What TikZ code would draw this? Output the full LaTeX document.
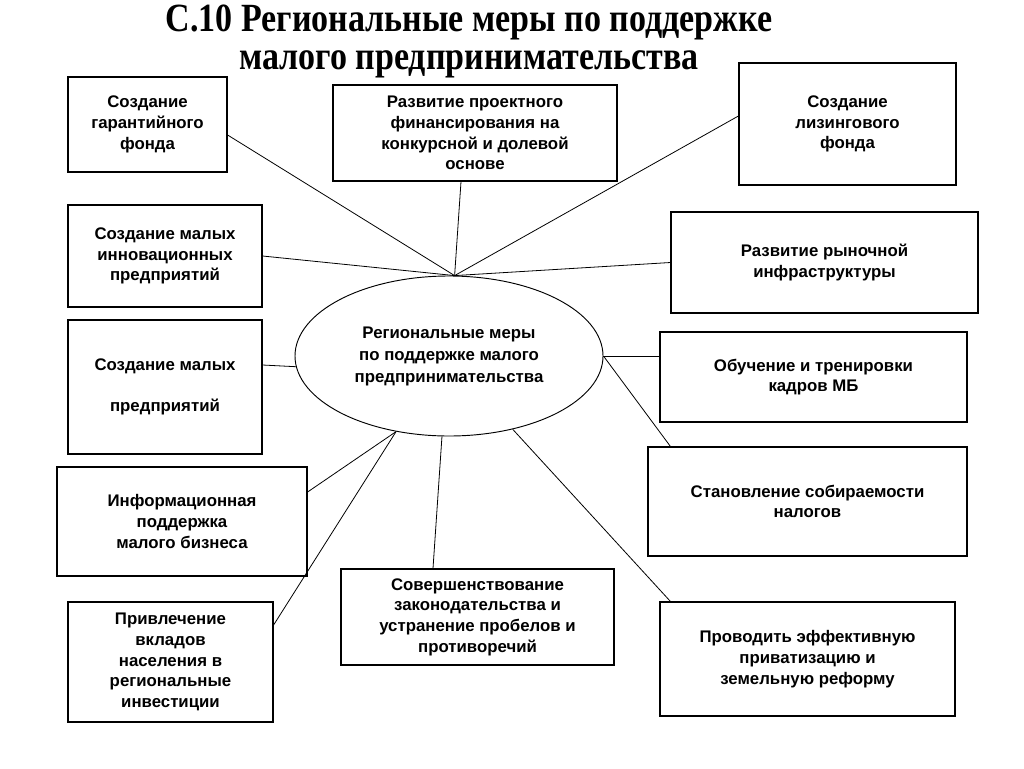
\documentclass[tikz,border=0pt]{standalone}
\usepackage{fontspec}
\setmainfont{Liberation Sans}
\newfontfamily\titlefont{Liberation Serif}
\usetikzlibrary{shapes.geometric,calc}

\begin{document}
\begin{tikzpicture}[x=0.75pt,y=-0.75pt,
  every node/.style={font=\bfseries\fontsize{12.6}{15.5}\selectfont},
  box/.style 2 args={draw,rectangle,line width=0.9pt,align=center,inner sep=0pt,
    minimum width=#1*0.75pt,minimum height=#2*0.75pt},
  link/.style={line width=0.6pt}]
  \useasboundingbox (0,0) rectangle (1024,768);

  \node[font=\titlefont\bfseries\fontsize{30}{28.5}\selectfont,align=center,xscale=0.85,transform shape] (title) at (469,41)
    {С.10 Региональные меры по поддержке\\малого предпринимательства};

  \node[draw,ellipse,line width=0.7pt,align=center,minimum width=308*0.75pt,minimum height=160*0.75pt,
    font=\bfseries\fontsize{12.6}{16.5}\selectfont] (mery) at (449,356)
    {Региональные меры\\по поддержке малого\\предпринимательства};

  \node[box={159}{95}]  (garant) at (147.5,124.5) {Создание\\гарантийного\\фонда};
  \node[box={284}{96}]  (proekt) at (475,133)     {Развитие проектного\\финансирования на\\конкурсной и долевой\\основе};
  \node[box={217}{122}] (lizing) at (847.5,124)   {Создание\\лизингового\\фонда};
  \node[box={194}{102}] (innov)  at (165,256)     {Создание малых\\инновационных\\предприятий};
  \node[box={307}{101}] (rynok)  at (824.5,262.5) {Развитие рыночной\\инфраструктуры};
  \node[box={194}{134}] (malye)  at (165,387)     {Создание малых\\[15.5pt]предприятий};
  \node[box={307}{90}]  (kadry)  at (813.5,377)   {Обучение и тренировки\\кадров МБ};
  \node[box={250}{109}] (inform) at (182,521.5)   {Информационная\\поддержка\\малого бизнеса};
  \node[box={319}{109}] (nalogi) at (807.5,501.5) {Становление собираемости\\налогов};
  \node[box={273}{96}]  (zakon)  at (477.5,617)   {Совершенствование\\законодательства и\\устранение пробелов и\\противоречий};
  \node[box={205}{120}] (vklady) at (170.5,662)   {Привлечение\\вкладов\\населения в\\региональные\\инвестиции};
  \node[box={295}{114}] (privat) at (807.5,659)   {Проводить эффективную\\приватизацию и\\земельную реформу};

  \path[link] (mery.86) edge ($(garant.east)+(0,10.5)$)
                        edge ($(proekt.south)+(-14,0)$)
                        edge ($(lizing.west)+(0,-8)$)
                        edge (innov.east)
                        edge (rynok.west)
        (mery.east) edge (mery.east -| kadry.west)
                    edge ($(nalogi.north west)+(23,0)$)
        (mery.184) edge ($(malye.east)+(0,-22)$)
        (mery.235) edge ($(inform.east)+(0,-29.5)$)
                   edge ($(vklady.east)+(0,-37)$)
        (mery.265) edge ($(zakon.north)+(-44.5,0)$)
        (mery.311) edge ($(privat.north west)+(11,0)$);
\end{tikzpicture}
\end{document}
